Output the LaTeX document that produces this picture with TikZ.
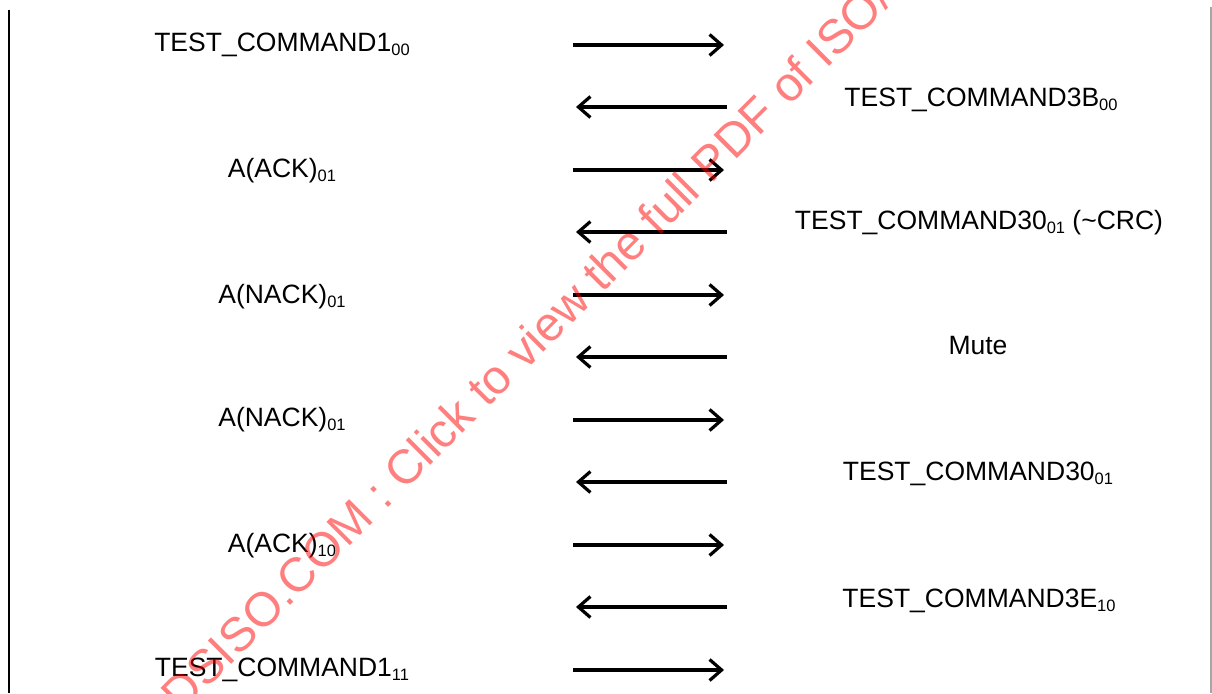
\documentclass[tikz,border=0pt]{standalone}
\usepackage{fontspec}
\setmainfont{Liberation Sans}
\usetikzlibrary{arrows.meta}
\newcommand\lowsub[1]{\raisebox{-4pt}{\fontsize{16.5}{18}\selectfont #1}}
\definecolor{wm}{RGB}{255,0,0}
\tikzset{
  lbl/.style={anchor=base, inner sep=0pt, font=\fontsize{26.5}{30}\selectfont},
  msg/.style={line width=3.2pt, -{Straight Barb[length=12pt,width=21pt,line width=3.2pt]}},
  frame/.style={line width=1.6pt},
}
\begin{document}
\begin{tikzpicture}[x=1pt,y=-1pt]
\useasboundingbox (0,0) rectangle (1212,693);
\clip (0,0) rectangle (1212,693);
% frame lines
\coordinate (lt) at (9,10);
\coordinate (lb) at (9,693);
\coordinate (rt) at (1211,7);
\coordinate (rb) at (1211,693);
\draw[frame] (lt) -- (lb);
\draw[frame, gray!70] (rt) -- (rb);
% left labels
\node[lbl] (t1) at (282,52) {TEST\_COMMAND1\lowsub{00}};
\node[lbl] (t2) at (282,177) {A(ACK)\lowsub{01}};
\node[lbl] (t3) at (282,303) {A(NACK)\lowsub{01}};
\node[lbl] (t4) at (282,426) {A(NACK)\lowsub{01}};
\node[lbl] (t5) at (282,552) {A(ACK)\lowsub{10}};
\node[lbl] (t6) at (282,676) {TEST\_COMMAND1\lowsub{11}};
% right labels
\node[lbl] (r1) at (981,106) {TEST\_COMMAND3B\lowsub{00}};
\node[lbl] (r2) at (979,229) {TEST\_COMMAND30\lowsub{01} (\textasciitilde CRC)};
\node[lbl] (r3) at (978,354) {Mute};
\node[lbl] (r4) at (978,480) {TEST\_COMMAND30\lowsub{01}};
\node[lbl] (r5) at (979,607) {TEST\_COMMAND3E\lowsub{10}};
% arrows
\foreach \i/\y in {1/45,2/170,3/295,4/420,5/545,6/670}{
  \coordinate (fs\i) at (573,\y);
  \coordinate (fe\i) at (724,\y);
  \draw[msg] (fs\i) -- (fe\i);
}
\foreach \i/\y in {1/107,2/232,3/357,4/482,5/607}{
  \coordinate (bs\i) at (727,\y);
  \coordinate (be\i) at (576,\y);
  \draw[msg] (bs\i) -- (be\i);
}
% watermark
\node[rotate=45, anchor=base west, inner sep=0pt, text=wm, text opacity=0.5,
      font=\fontsize{48}{50}\selectfont] (wmk) at (22,874)
  {STANDARDSISO.COM : Click to view the full PDF of ISO/IEC 10373-6:2016};
\end{tikzpicture}
\end{document}
